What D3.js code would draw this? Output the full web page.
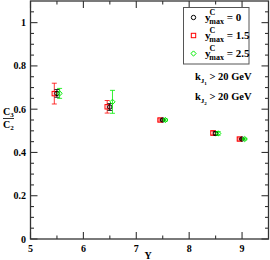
<!DOCTYPE html>
<html>
<head>
<meta charset="utf-8">
<script src="https://cdn.jsdelivr.net/npm/d3@7"></script>
<style>
  body { margin: 0; background: #fff; }
  text { font-family: "Liberation Serif", "DejaVu Serif", serif; font-weight: bold; }
</style>
</head>
<body>
<svg width="270" height="260"></svg>
<script>
// rapidity values per series
var blackY = [5.5, 6.5, 7.5, 8.5, 9.0],
    redY   = [5.45, 6.45, 7.45, 8.45, 8.95],
    greenY = [5.55, 6.55, 7.55, 8.55, 9.05];

// C3/C2 ratios and errors
var blackVal = [0.673, 0.610, 0.550, 0.488, 0.462],
    blackErr = [0.018, 0.016, 0.005, 0.008, 0.004],
    redVal   = [0.672, 0.611, 0.550, 0.490, 0.462],
    redErr   = [0.048, 0.029, 0.005, 0.010, 0.005],
    greenVal = [0.673, 0.634, 0.550, 0.488, 0.462],
    greenErr = [0.023, 0.053, 0.005, 0.008, 0.004];

var xTicks = [5, 6, 7, 8, 9],
    yTicks = [0, 0.2, 0.4, 0.6, 0.8, 1];

var svg = d3.select("svg"),
    pLeft = 30.5, pRight = 268.5, pTop = 1, pBottom = 239;

var x = d3.scaleLinear().domain([5, 9.5]).range([pLeft, pRight]),
    y = d3.scaleLinear().domain([0, 1.1]).range([pBottom, pTop]);

var axisColor = "#333";

// frame
svg.append("rect")
    .attr("x", pLeft).attr("y", pTop)
    .attr("width", pRight - pLeft).attr("height", pBottom - pTop)
    .attr("fill", "none").attr("stroke", axisColor).attr("stroke-width", 1.3);

// ticks (inward, mirrored)
var xMinor = d3.range(5.5, 9.5, 1),
    yMinor = d3.range(0, 1.1, 0.05).filter(d => Math.abs(d * 5 - Math.round(d * 5)) > 1e-6);

var tickG = svg.append("g").attr("stroke", axisColor).attr("stroke-width", 1.1);
function tickLines(vals, len, horiz) {
    vals.forEach(function (v) {
        if (horiz) {
            tickG.append("line").attr("x1", x(v)).attr("x2", x(v)).attr("y1", pBottom).attr("y2", pBottom - len);
            tickG.append("line").attr("x1", x(v)).attr("x2", x(v)).attr("y1", pTop).attr("y2", pTop + len);
        } else {
            tickG.append("line").attr("y1", y(v)).attr("y2", y(v)).attr("x1", pLeft).attr("x2", pLeft + len);
            tickG.append("line").attr("y1", y(v)).attr("y2", y(v)).attr("x1", pRight).attr("x2", pRight - len);
        }
    });
}
tickLines(xTicks, 7, true);
tickLines(xMinor, 3.5, true);
tickLines(yTicks, 7, false);
tickLines(yMinor, 3.5, false);

// tick labels
svg.selectAll(".xl").data(xTicks).enter().append("text")
    .attr("x", d => x(d)).attr("y", 252)
    .attr("text-anchor", "middle").attr("font-size", 10)
    .text(d => d);
svg.selectAll(".yl").data(yTicks).enter().append("text")
    .attr("x", 26).attr("y", d => y(d) + 3.5)
    .attr("text-anchor", "end").attr("font-size", 10)
    .text(d => d === 0 ? "0" : d === 1 ? "1" : d.toFixed(1));

// axis titles
svg.append("text").attr("x", 148).attr("y", 259)
    .attr("text-anchor", "middle").attr("font-size", 10).text("Y");
var yl = svg.append("text").attr("x", 3).attr("y", 115).attr("font-size", 10);
yl.append("tspan").text("C");
yl.append("tspan").attr("font-size", 7).attr("dy", 2).text("3");
svg.append("line").attr("x1", 3).attr("x2", 14).attr("y1", 118.5).attr("y2", 118.5)
    .attr("stroke", "#000").attr("stroke-width", 0.8);
var yl2 = svg.append("text").attr("x", 3).attr("y", 128).attr("font-size", 10);
yl2.append("tspan").text("C");
yl2.append("tspan").attr("font-size", 7).attr("dy", 2).text("2");

// series
var series = [
    {xs: blackY, vals: blackVal, errs: blackErr, color: "#000", shape: "circle"},
    {xs: redY, vals: redVal, errs: redErr, color: "#f00", shape: "square"},
    {xs: greenY, vals: greenVal, errs: greenErr, color: "#0e0", shape: "diamond"}
];

function marker(g, shape, cx, cy, color) {
    if (shape === "circle") {
        g.append("circle").attr("cx", cx).attr("cy", cy).attr("r", 2.2)
            .attr("fill", "none").attr("stroke", color).attr("stroke-width", 1);
    } else if (shape === "square") {
        g.append("rect").attr("x", cx - 2.2).attr("y", cy - 2.2).attr("width", 4.4).attr("height", 4.4)
            .attr("fill", "none").attr("stroke", color).attr("stroke-width", 1);
    } else {
        g.append("path").attr("d", `M${cx},${cy - 2.6}L${cx + 2.6},${cy}L${cx},${cy + 2.6}L${cx - 2.6},${cy}Z`)
            .attr("fill", "none").attr("stroke", color).attr("stroke-width", 1);
    }
}

[series[1], series[0], series[2]].forEach(function (s) {
    var g = svg.append("g");
    s.vals.forEach(function (v, i) {
        var cx = x(s.xs[i]), y0 = y(v - s.errs[i]), y1 = y(v + s.errs[i]);
        g.append("line").attr("x1", cx).attr("x2", cx).attr("y1", y0).attr("y2", y1)
            .attr("stroke", s.color).attr("stroke-width", 0.8);
        [y0, y1].forEach(function (yy) {
            g.append("line").attr("x1", cx - 2.5).attr("x2", cx + 2.5).attr("y1", yy).attr("y2", yy)
                .attr("stroke", s.color).attr("stroke-width", 0.8);
        });
        marker(g, s.shape, cx, y(v), s.color);
    });
});

// legend
svg.append("rect").attr("x", 183.5).attr("y", 7.5).attr("width", 65.5).attr("height", 56.5)
    .attr("fill", "#fff").attr("stroke", "#555").attr("stroke-width", 1);
var legVals = ["0", "1.5", "2.5"];
series.forEach(function (s, i) {
    var ly = 17.5 + i * 18;
    marker(svg, s.shape, 193.5, ly, s.color);
    var t = svg.append("text").attr("x", 205).attr("y", ly + 3).attr("font-size", 11);
    t.append("tspan").text("y");
    t.append("tspan").attr("font-size", 8).attr("dy", -6).attr("dx", -1).text("C");
    t.append("tspan").attr("font-size", 8).attr("dy", 9).attr("dx", -6).text("max");
    t.append("tspan").attr("dy", -3).text(" = " + legVals[i]);
});

// cuts
[["1", 80], ["2", 100]].forEach(function (c) {
    var t = svg.append("text").attr("x", 195).attr("y", c[1]).attr("font-size", 10.5);
    t.append("tspan").text("k");
    t.append("tspan").attr("font-size", 7).attr("dy", 3).text("J");
    t.append("tspan").attr("font-size", 5).attr("dy", 1.5).text(c[0]);
    t.append("tspan").attr("dy", -4.5).text(" > 20 GeV");
});
</script>
</body>
</html>
